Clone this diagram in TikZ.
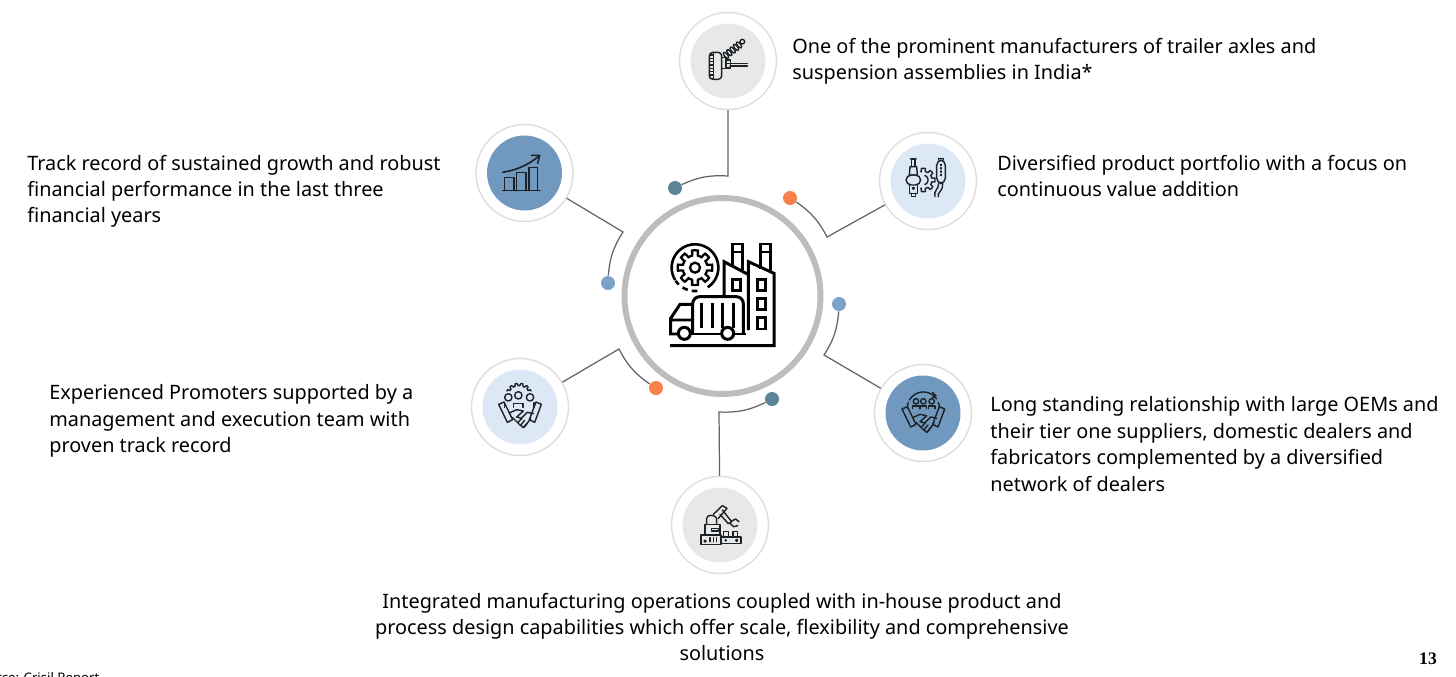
\documentclass[tikz,border=0pt]{standalone}
\usepackage{fontspec}
\setmainfont{Noto Sans}
\newfontfamily\pagefont[Scale=1]{Liberation Serif}
\definecolor{hubgrey}{HTML}{BDBDBD}
\definecolor{halogrey}{HTML}{DEDEDE}
\definecolor{wiregrey}{HTML}{636363}
\definecolor{chipgrey}{HTML}{E8E8E8}
\definecolor{chipsky}{HTML}{DCE8F5}
\definecolor{chipsteel}{HTML}{7198BE}
\definecolor{dotteal}{HTML}{5B8497}
\definecolor{dotorange}{HTML}{F97F4B}
\definecolor{dotsky}{HTML}{7BA3C9}
\definecolor{inkdark}{HTML}{1C2226}
\tikzset{
    halo/.style={circle,draw=halogrey,line width=0.8pt,fill=white,minimum size=1.94cm,inner sep=0pt},
    chip/.style={circle,minimum size=1.5cm,inner sep=0pt},
    knob/.style={circle,minimum size=0.28cm,inner sep=0pt},
    wire/.style={draw=wiregrey,line width=0.7pt},
    blurb/.style={align=left,anchor=north west,inner sep=0pt,font=\fontsize{11.3}{15}\selectfont},
    inkfine/.style={draw=inkdark,line width=0.8pt,line join=round,line cap=round},
    inkbold/.style={draw=black,line width=1.7pt,line join=miter}
}
% handshake, drawn round its own middle
\newcommand{\shakeicon}{
    \draw[inkfine] (-64,-32)--(-48,-39)--(-22,14)--(-38,22)--cycle;
    \draw[inkfine] (64,-32)--(48,-39)--(28,14)--(44,22)--cycle;
    \draw[inkfine] (-32,-6)--(-10,-16)--(10,-12)--(-10,6)--(4,10)--(22,-8)--(40,-4);
    \draw[inkfine] (-22,8)--(0,30)--(10,38)--(18,30)--(28,16)--(32,8);
    \draw[inkfine] (-6,22)--(6,10) (2,30)--(14,16) (10,38)--(22,24);
}
\newcommand{\toothring}[3]{plot[domain=0:360,samples=181] (\x:{#1+#2*max(0,min(1,3*cos(#3*\x)+0.5))})}
\begin{document}
\begin{tikzpicture}[x=0.02cm,y=-0.02cm]
    \useasboundingbox (0,0) rectangle (1456,676);
    \clip (0,0) rectangle (1456,676);
    \fill[white] (0,0) rectangle (1456,676);
    % knobs and elbows round the hub
    \foreach \nm/\x/\y/\col in {
        axle/675/188/dotteal,range/790/198/dotorange,oems/839/304/dotsky,
        plant/772/399/dotteal,team/656/388/dotorange,growth/608/283/dotsky}
    {\node[knob,fill=\col] (\nm knob) at (\x,\y) {};}
    \coordinate (axleelbow) at (728,176);
    \coordinate (rangeelbow) at (827,237);
    \coordinate (oemselbow) at (824,355);
    \coordinate (plantelbow) at (719,412);
    \coordinate (teamelbow) at (619,349);
    \coordinate (growthelbow) at (623,232);
    % the six badges
    \foreach \nm/\x/\y/\col in {
        axle/728/61/chipgrey,range/928/181/chipsky,oems/923/413/chipsteel,
        plant/720/525/chipgrey,team/520/407/chipsky,growth/524.5/173/chipsteel}
    {\node[halo] (\nm) at (\x,\y) {};
     \node[chip,fill=\col] (\nm chip) at (\x,\y) {};}
    \node[circle,draw=hubgrey,line width=3.4pt,fill=white,minimum size=3.92cm,inner sep=0pt] (hub) at (722.5,296) {};
    % connectors
    \draw[wire] (axle) -- (axleelbow) to[bend right=14] (axleknob);
    \draw[wire] (range) -- (rangeelbow) to[bend right=14] (rangeknob);
    \draw[wire] (oems) -- (oemselbow) to[bend right=14] (oemsknob);
    \draw[wire] (plant) -- (plantelbow) to[bend right=14] (plantknob);
    \draw[wire] (team) -- (teamelbow) to[bend right=14] (teamknob);
    \draw[wire] (growth) -- (growthelbow) to[bend right=14] (growthknob);
    % hub icon: factory, truck, gear
    \begin{scope}[shift={(620,190)},scale=1/3]
        \draw[inkbold] (150,467)--(467,467) (462,467)--(462,250)--(385,215)--(385,420);
        \draw[inkbold] (312,320)--(312,215)--(382,252);
        \draw[inkbold] (336,228)--(336,162)--(368,162)--(368,240) (336,186)--(368,186);
        \draw[inkbold] (420,236)--(420,162)--(452,162)--(452,245) (420,186)--(452,186);
        \foreach \wx/\wy in {337/268,412/268,412/325,412/383}
            {\draw[inkbold] (\wx,\wy) rectangle ++(25,34);}
        \draw[inkbold,rounded corners=4pt] (218,432)--(218,320)--(370,320)--(370,432);
        \foreach \sx in {245,277,308,340}
            {\draw[inkbold] (\sx,338)--(\sx,415);}
        \draw[inkbold] (174,432)--(152,432)--(152,385)--(180,343)--(218,343) (155,390)--(218,390);
        \draw[inkbold] (212,432)--(304,432) (342,432)--(378,432);
        \draw[inkbold] (193,430) circle (18) (323,430) circle (18);
        \begin{scope}[shift={(225,233)}]
            \draw[inkbold,line width=1.3pt] \toothring{37}{15}{8} -- cycle;
            \draw[inkbold,line width=1.3pt] (0,0) circle (15);
            \draw[inkbold,line width=1.5pt] plot[domain=-212:57,samples=60] (\x:70);
            \draw[inkbold,line width=1.5pt] plot[domain=84:98,samples=5] (\x:70);
            \draw[inkbold,line width=1.5pt] plot[domain=108:122,samples=5] (\x:70);
            \draw[inkbold,line width=1.5pt] plot[domain=134:146,samples=5] (\x:70);
        \end{scope}
    \end{scope}
    % axle icon
    \begin{scope}[shift={(670,0)},scale=1/3]
        \draw[inkfine,rounded corners=2pt] (118,157) rectangle (155,238);
        \draw[inkfine] (131,160)--(131,235);
        \foreach \ty in {165,175,...,235}
            {\draw[inkfine] (120,\ty)--(130,\ty);}
        \draw[inkfine] (155,172)--(168,172)--(168,205)--(155,205) (168,190)--(232,190) (180,198)--(232,198);
        \draw[inkfine] (168,180) rectangle (182,204);
        \foreach \cx/\cy in {168/166,178/158,188/150,198/142,207/135}
            {\draw[inkfine,rotate around={40:(\cx,\cy)}] (\cx,\cy) ellipse (5 and 11);}
        \draw[inkfine] (217,125) circle (7);
    \end{scope}
    % range icon
    \begin{scope}[shift={(870,125)},scale=1/3]
        \draw[inkfine] (122,102)--(138,102) (125,102)--(125,125) (135,102)--(135,125);
        \draw[inkfine] (120,125)--(140,125)--(142,150)--(118,150)--cycle;
        \draw[inkfine,rounded corners=3pt] (108,150) rectangle (152,180);
        \draw[inkfine] (118,180)--(118,205)--(142,205)--(142,180) (124,205)--(124,214)--(136,214)--(136,205);
        \draw[inkfine] (130,190) circle (3);
        \begin{scope}[shift={(160,165)}]
            \draw[inkfine] plot[domain=-110:110,samples=89] (\x:{26+9*max(0,min(1,3*cos(8*\x)+0.5))});
            \draw[inkfine] plot[domain=-70:70,samples=21] (\x:14);
        \end{scope}
        \draw[inkfine,rounded corners=3pt] (200,105) rectangle (226,175);
        \draw[inkfine] (206,100)--(220,100)--(220,105) (206,100)--(206,105);
        \foreach \dy in {118,128,138,148}
            {\draw[inkfine] (213,\dy)--(213,\dy+4);}
        \draw[inkfine] (206,175) .. controls (206,195) and (190,195) .. (195,215) (218,175) .. controls (218,205) and (200,200) .. (205,215);
    \end{scope}
    % growth icon
    \begin{scope}[shift={(465,120)},scale=1/3]
        \draw[inkfine,line width=0.9pt] (113,212)--(225,212);
        \draw[inkfine,line width=0.8pt] (118,212)--(118,172)--(147,172)--(147,212);
        \draw[inkfine,line width=0.8pt] (155,212)--(155,157)--(183,157)--(183,212);
        \draw[inkfine,line width=0.8pt] (192,212)--(192,142)--(218,142)--(218,212);
        \draw[inkfine,line width=0.9pt] (113,157) .. controls (155,150) and (190,135) .. (222,108);
        \draw[inkfine,line width=0.9pt] (200,106)--(224,106)--(218,130);
    \end{scope}
    % team icon
    \begin{scope}[shift={(465,350)},scale=1/3]
        \begin{scope}[shift={(162,140)}]
            \draw[inkfine] plot[domain=-155:-25,samples=61] (\x:{33+7*max(0,min(1,3*cos(14*\x)+0.5))});
        \end{scope}
        \foreach \hx/\hy in {130/142,160/136,195/142}
            {\draw[inkfine] (\hx,\hy) circle (11);}
        \draw[inkfine] (146,172)--(146,160)--(174,160)--(174,172);
        \draw[inkfine] (118,172)--(118,158) (207,172)--(207,158);
        \begin{scope}[shift={(165,195)}]
            \shakeicon
        \end{scope}
    \end{scope}
    % oems icon
    \begin{scope}[shift={(870,358)},scale=1/3]
        \begin{scope}[shift={(160,150)}]
            \draw[inkfine] plot[domain=-150:-35,samples=31] (\x:48);
            \draw[inkfine] (28,-46)--(38,-36)--(26,-30);
            \draw[inkfine] plot[domain=-180:-160,samples=5] (\x:48);
            \draw[inkfine] plot[domain=-20:0,samples=5] (\x:48);
        \end{scope}
        \foreach \hx in {138,160,185}
            {\draw[inkfine] (\hx,130) circle (8);
             \draw[inkfine] (\hx-10,152)--(\hx-10,144)--(\hx+10,144)--(\hx+10,152);}
        \begin{scope}[shift={(160,185)}]
            \shakeicon
        \end{scope}
    \end{scope}
    % plant icon
    \begin{scope}[shift={(665,475)},scale=1/3]
        \draw[inkfine] (108,180) rectangle (168,208);
        \draw[inkfine] (170,186) rectangle (228,206);
        \draw[inkfine] (120,178)--(120,148)--(165,148)--(165,178)--cycle;
        \draw[inkfine] (125,148)--(125,130) .. controls (125,118) and (150,118) .. (155,130)--(155,148);
        \draw[inkfine] (140,160) rectangle (160,168);
        \draw[inkfine] (145,118)--(172,92)--(186,100)--(160,130);
        \draw[inkfine] (172,105)--(200,140)--(190,146)--(165,118);
        \draw[inkfine] (200,138)--(212,132)--(222,140) (196,146)--(206,155)--(218,152);
        \draw[inkfine] (176,170) rectangle (190,186) (204,170) rectangle (218,186);
        \foreach \bx in {135,145,155}
            {\draw[inkfine] (\bx,188)--(\bx,200);}
        \draw[inkfine] (120,198) circle (3) (215,196) circle (3) (182,196) circle (2);
    \end{scope}
    % texts
    \node[blurb] (axletext) at (792,37.5) {One of the prominent manufacturers of trailer axles and\\suspension assemblies in India*};
    \node[blurb] (rangetext) at (997,154.5) {Diversified product portfolio with a focus on\\continuous value addition};
    \node[blurb] (growthtext) at (27,154.5) {Track record of sustained growth and robust\\financial performance in the last three\\financial years};
    \node[blurb] (teamtext) at (49,384.5) {Experienced Promoters supported by a\\management and execution team with\\proven track record};
    \node[blurb] (oemstext) at (990,396.5) {Long standing relationship with large OEMs and\\their tier one suppliers, domestic dealers and\\fabricators complemented by a diversified\\network of dealers};
    \node[blurb,align=center,anchor=north] (planttext) at (722,592.5) {Integrated manufacturing operations coupled with in-house product and\\process design capabilities which offer scale, flexibility and comprehensive\\solutions};
    \node[inner sep=0pt,font=\pagefont\bfseries\fontsize{10}{12}\selectfont] (pagenumber) at (1428,659) {13};
    \node[inner sep=0pt,anchor=north west,font=\fontsize{7.5}{10}\selectfont] (sourcenote) at (-27,672) {Source: Crisil Report};
\end{tikzpicture}
\end{document}
